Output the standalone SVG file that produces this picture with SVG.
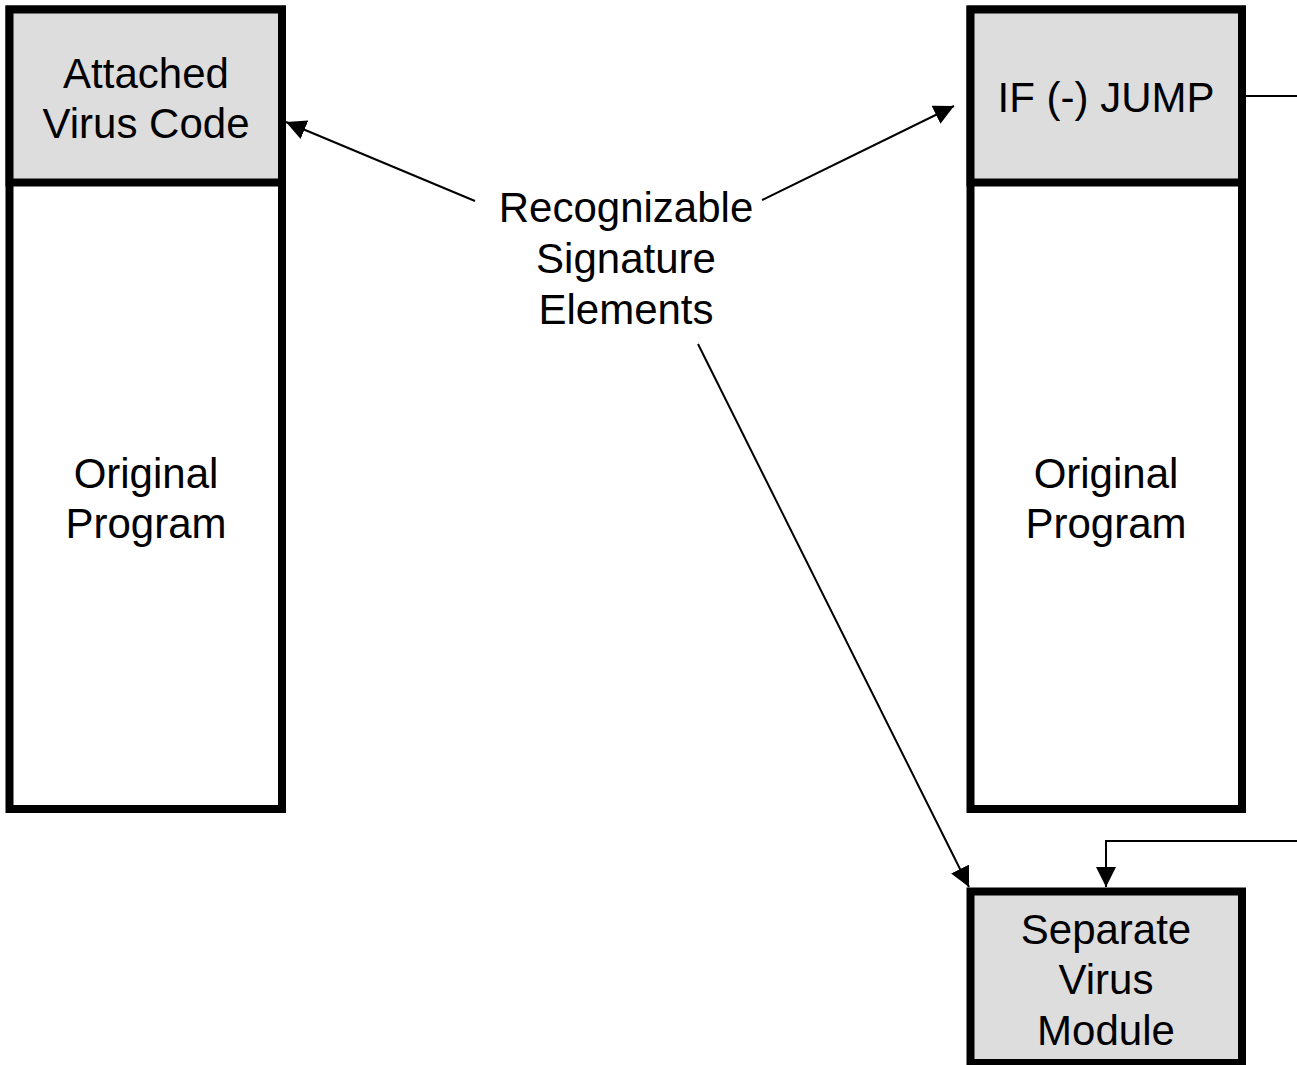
<svg xmlns="http://www.w3.org/2000/svg" width="1297" height="1065" viewBox="0 0 1297 1065">
<style>
.box{stroke:#000;stroke-width:8;}
.hd{fill:#dddddd;}
.bd{fill:#ffffff;}
.t{font-family:"Liberation Sans",Arial,sans-serif;font-size:42px;fill:#000;text-anchor:middle;}
.c{fill:none;stroke:#000;stroke-width:2;}
</style>
<defs>
<marker id="ah" markerUnits="userSpaceOnUse" markerWidth="22" markerHeight="22" refX="20" refY="10" orient="auto">
<path d="M0,0 L20,10 L0,20 Z" fill="#000"/>
</marker>
</defs>
<rect x="0" y="0" width="1297" height="1065" fill="#fff"/>
<g id="left-program">
<rect class="box bd" x="9.5" y="9.5" width="272.5" height="799.5"/>
<rect class="box hd" x="9.5" y="9.5" width="272.5" height="173"/>
<text class="t" x="146" y="88">Attached</text>
<text class="t" x="146" y="138">Virus Code</text>
<text class="t" x="146" y="488">Original</text>
<text class="t" x="146" y="538">Program</text>
</g>
<g id="right-program">
<rect class="box bd" x="970.5" y="9.5" width="271.5" height="799.5"/>
<rect class="box hd" x="970.5" y="9.5" width="271.5" height="173"/>
<text class="t" x="1106" y="112">IF (-) JUMP</text>
<text class="t" x="1106" y="488">Original</text>
<text class="t" x="1106" y="538">Program</text>
</g>
<g id="virus-module">
<rect class="box hd" x="970.5" y="891.5" width="271.5" height="171.5"/>
<text class="t" x="1106" y="944">Separate</text>
<text class="t" x="1106" y="994">Virus</text>
<text class="t" x="1106" y="1045">Module</text>
</g>
<g id="signature-label">
<text class="t" x="626" y="222">Recognizable</text>
<text class="t" x="626" y="273">Signature</text>
<text class="t" x="626" y="324">Elements</text>
</g>
<g id="connectors">
<line class="c" x1="475" y1="201" x2="286" y2="122" marker-end="url(#ah)"/>
<line class="c" x1="762" y1="200" x2="954" y2="106" marker-end="url(#ah)"/>
<line class="c" x1="698" y1="344" x2="969" y2="887" marker-end="url(#ah)"/>
<line class="c" x1="1246" y1="96" x2="1297" y2="96"/>
<polyline class="c" points="1297,841 1106,841 1106,887" marker-end="url(#ah)"/>
</g>
</svg>
